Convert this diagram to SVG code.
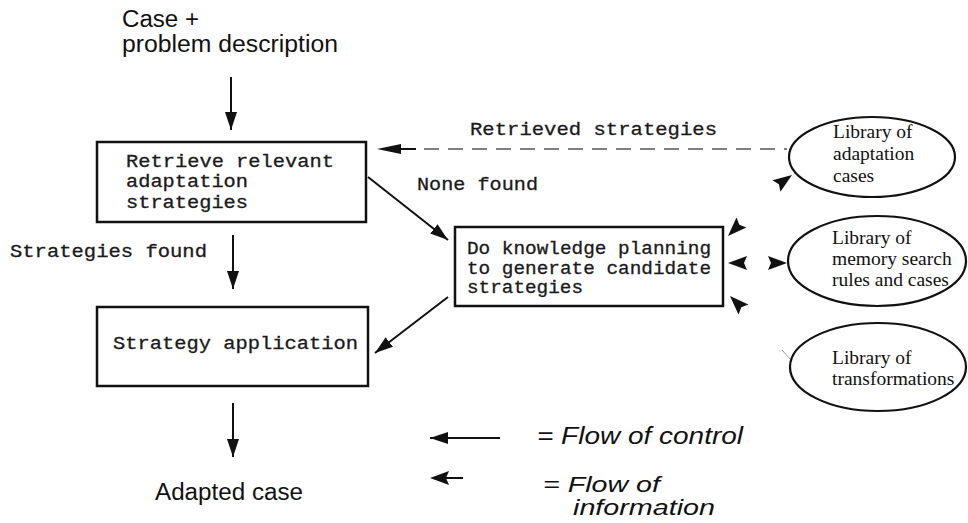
<svg xmlns="http://www.w3.org/2000/svg" width="968" height="523" viewBox="0 0 968 523">
<style>
.box{fill:#fff;stroke:#111;stroke-width:2.5}
.mono{font-family:"Liberation Mono","DejaVu Sans Mono",monospace;font-size:18.5px;fill:#1a1a1a;stroke:#1a1a1a;stroke-width:0.3}
.sans{font-family:"Liberation Sans",Arial,sans-serif;font-size:23px;fill:#111}
.ital{font-family:"Liberation Sans",Arial,sans-serif;font-size:24px;font-style:italic;fill:#111}
.serif{font-family:"Liberation Serif","Times New Roman",serif;font-size:19.5px;fill:#111}
.ell{fill:#fff;stroke:#111;stroke-width:2.2}
.ctl{stroke:#111;stroke-width:2;fill:none;marker-end:url(#ah)}
.info{fill:#111}
</style>
<defs>
<marker id="ah" markerUnits="userSpaceOnUse" markerWidth="20" markerHeight="14" refX="18" refY="6" orient="auto">
<path d="M0,0 L18,6 L0,12 Z" fill="#111"/>
</marker>
<path id="ih" d="M0,0 L19,-7 L16,0 L19,7 Z"/>
</defs>

<text class="sans" x="122" y="27" textLength="77" lengthAdjust="spacingAndGlyphs">Case +</text>
<text class="sans" x="122" y="52" textLength="216" lengthAdjust="spacingAndGlyphs">problem description</text>

<g id="retrieve">
<rect class="box" x="97" y="142" width="269" height="80"/>
<text class="mono" x="126" y="167" textLength="208" lengthAdjust="spacingAndGlyphs">Retrieve relevant</text>
<text class="mono" x="126" y="187" textLength="122" lengthAdjust="spacingAndGlyphs">adaptation</text>
<text class="mono" x="126" y="208" textLength="122" lengthAdjust="spacingAndGlyphs">strategies</text>
</g>

<g id="apply">
<rect class="box" x="97" y="307" width="271" height="79"/>
<text class="mono" x="113" y="349" textLength="245" lengthAdjust="spacingAndGlyphs">Strategy application</text>
</g>

<g id="plan">
<rect class="box" x="455" y="227" width="268" height="79"/>
<text class="mono" x="467" y="254" textLength="244" lengthAdjust="spacingAndGlyphs">Do knowledge planning</text>
<text class="mono" x="467" y="274" textLength="244" lengthAdjust="spacingAndGlyphs">to generate candidate</text>
<text class="mono" x="467" y="293" textLength="116" lengthAdjust="spacingAndGlyphs">strategies</text>
</g>

<g id="lib-adapt">
<ellipse class="ell" cx="872" cy="157" rx="83" ry="40"/>
<text class="serif" x="833" y="138">Library of</text>
<text class="serif" x="833" y="160">adaptation</text>
<text class="serif" x="833" y="182">cases</text>
</g>

<g id="lib-memory">
<ellipse class="ell" cx="877" cy="261" rx="89" ry="45"/>
<text class="serif" x="832" y="244">Library of</text>
<text class="serif" x="832" y="265">memory search</text>
<text class="serif" x="832" y="286">rules and cases</text>
</g>

<g id="lib-trans">
<ellipse class="ell" cx="878" cy="367" rx="88" ry="44"/>
<text class="serif" x="832" y="364">Library of</text>
<text class="serif" x="832" y="385">transformations</text>
</g>

<g id="labels">
<text class="mono" x="470" y="135" textLength="247" lengthAdjust="spacingAndGlyphs">Retrieved strategies</text>
<text class="mono" x="417" y="190" textLength="121" lengthAdjust="spacingAndGlyphs">None found</text>
<text class="mono" x="10" y="257" textLength="197" lengthAdjust="spacingAndGlyphs">Strategies found</text>
<text class="sans" x="155" y="500" textLength="148" lengthAdjust="spacingAndGlyphs">Adapted case</text>
</g>

<g id="connectors">
<line class="ctl" x1="231" y1="77" x2="231" y2="130"/>
<line class="ctl" x1="233" y1="235" x2="233" y2="289"/>
<line class="ctl" x1="233" y1="403" x2="233" y2="457"/>
<line class="ctl" x1="368" y1="177" x2="448" y2="240"/>
<line class="ctl" x1="448" y1="297" x2="375" y2="353"/>
<path d="M377,149 L401,144 L401,154 Z" fill="#111"/>
<line x1="400" y1="149" x2="416" y2="149" stroke="#111" stroke-width="2"/>
<line x1="424" y1="149" x2="787" y2="149" stroke="#555" stroke-width="1.6" stroke-dasharray="15 9"/>
<use href="#ih" class="info" transform="translate(728,236) rotate(-45)"/>
<use href="#ih" class="info" transform="translate(792,175) rotate(145)"/>
<use href="#ih" class="info" transform="translate(728,263)"/>
<use href="#ih" class="info" transform="translate(787,263) rotate(180)"/>
<use href="#ih" class="info" transform="translate(730,296) rotate(45)"/>
<line x1="782" y1="350" x2="790" y2="359" stroke="#999" stroke-width="1"/>
</g>

<g id="legend">
<line class="ctl" x1="500" y1="438" x2="430" y2="438"/>
<text class="ital" x="537" y="444" textLength="206" lengthAdjust="spacingAndGlyphs">= Flow of control</text>
<use href="#ih" class="info" transform="translate(430,478)"/>
<line x1="445" y1="478" x2="463" y2="478" stroke="#111" stroke-width="2"/>
<text class="ital" x="543" y="492" style="font-size:22px" textLength="117" lengthAdjust="spacingAndGlyphs">= Flow of</text>
<text class="ital" x="573" y="515" style="font-size:22px" textLength="142" lengthAdjust="spacingAndGlyphs">information</text>
</g>
</svg>
